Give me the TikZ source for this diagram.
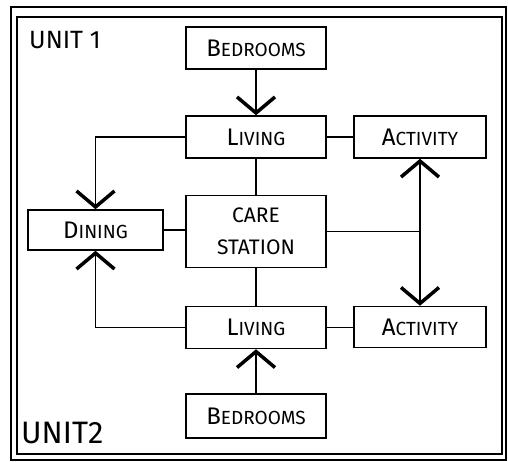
\documentclass[tikz,border=0pt]{standalone}
\usepackage{fontspec}
\setmainfont{Fira Sans}
\usetikzlibrary{arrows.meta}
\newcommand\hcap[2]{{\fontsize{24}{24}\selectfont #1}{\fontsize{19}{19}\selectfont #2}}
\tikzset{
  box/.style={draw, line width=1.5pt, inner sep=0pt, align=center},
  wide/.style={minimum width=140pt, minimum height=42pt},
  conn/.style={line width=1.5pt},
  tip/.tip={Straight Barb[length=16pt, width=38pt, line width=3.5pt]},
  frame/.style={line width=1.5pt},
  lbl/.style={inner sep=0pt, anchor=west}
}
\begin{document}
\begin{tikzpicture}[x=1pt, y=-1pt]
\useasboundingbox (0,0) rectangle (508,462);
% frame
\draw[frame] (11,7) rectangle (506,460);
\draw[frame] (17,17) rectangle (502,454);
\node[lbl] (u1) at (29,40) {\fontsize{25}{25}\selectfont UNIT 1};
\node[lbl] (u2) at (21,433) {\fontsize{31}{31}\selectfont UNIT2};
% boxes
\node[box, wide] (bed1) at (256,48) {\hcap{B}{EDROOMS}};
\node[box, wide] (liv1) at (256,137) {\hcap{L}{IVING}};
\node[box, minimum width=132pt, minimum height=42pt] (act1) at (420,137) {\hcap{A}{CTIVITY}};
\node[box, minimum width=135pt, minimum height=40pt] (din) at (95.5,230) {\hcap{D}{INING}};
\node[box, minimum width=140pt, minimum height=72pt, font=\fontsize{21}{32}\selectfont] (care) at (256,231.5)
  {CARE\\STATION};
\node[box, wide] (liv2) at (256,327.5) {\hcap{L}{IVING}};
\node[box, minimum width=132pt, minimum height=41pt] (act2) at (420,327) {\hcap{A}{CTIVITY}};
\node[box, wide, minimum height=44pt] (bed2) at (256,416) {\hcap{B}{EDROOMS}};
% connectors
\draw[conn, -tip] (bed1.south) -- (liv1.north);
\draw[conn, -tip] (liv1.west) -| (din.north);
\draw[conn] (liv1.east) -- (act1.west);
\draw[conn] (liv1.south) -- (care.north);
\draw[conn] (din.east) -- (din.east -| care.west);
\draw[conn, tip-tip] (act1.south) -- (act2.north);
\coordinate (j) at (care.east -| act1.south);
\draw[conn] (care.east) -- (j);
\draw[conn] (care.south) -- (liv2.north);
\draw[conn, -tip] (liv2.west) -| (din.south);
\draw[conn] (liv2.east) -- (liv2.east -| act2.west);
\draw[conn, -tip] (bed2.north) -- (liv2.south);
\end{tikzpicture}
\end{document}
